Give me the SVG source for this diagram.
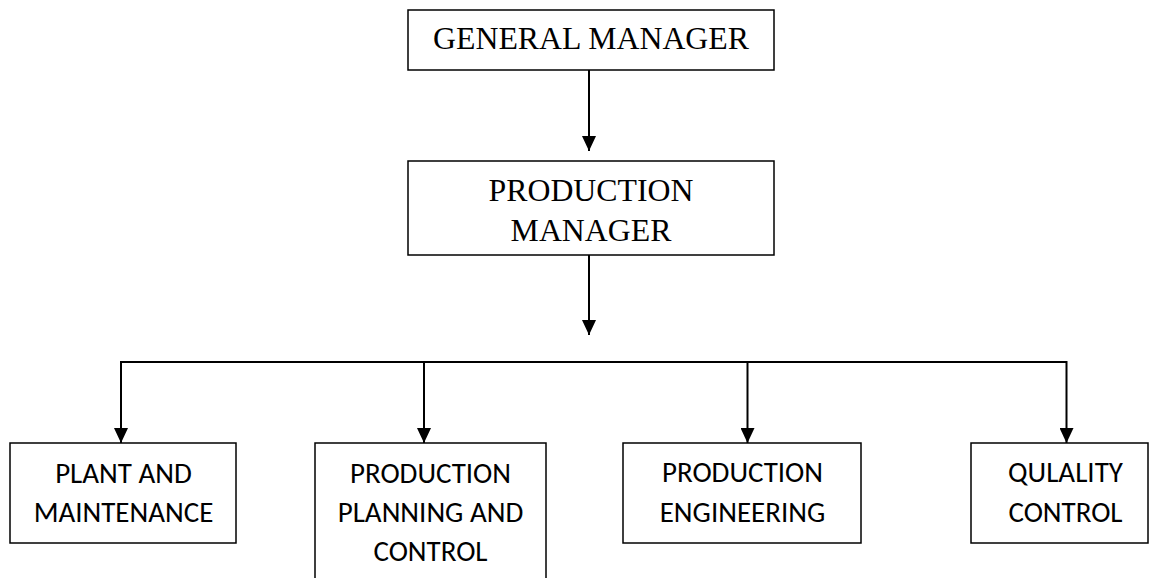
<svg xmlns="http://www.w3.org/2000/svg" width="1152" height="578" viewBox="0 0 1152 578">
<style>
.box{fill:#fff;stroke:#000;stroke-width:1.5}
.serif{font-family:"Liberation Serif","Times New Roman",serif;font-size:31.8px;fill:#000;text-anchor:middle}
.sans{font-family:Carlito,Calibri,"Liberation Sans",Arial,sans-serif;font-size:29px;fill:#000;text-anchor:middle}
.conn{fill:none;stroke:#000;stroke-width:2}
</style>
<defs>
<marker id="arr" viewBox="0 0 15 14" refX="15" refY="7" markerWidth="15" markerHeight="14" markerUnits="userSpaceOnUse" orient="auto">
<path d="M0,0 L15,7 L0,14 z" fill="#000"/>
</marker>
</defs>
<rect width="1152" height="578" fill="#fff"/>
<g id="connectors">
<line class="conn" x1="589" y1="70" x2="589" y2="151" marker-end="url(#arr)"/>
<line class="conn" x1="589" y1="255" x2="589" y2="335" marker-end="url(#arr)"/>
<polyline class="conn" points="120,362 1066.5,362 1066.5,443" marker-end="url(#arr)"/>
<line class="conn" x1="121" y1="361" x2="121" y2="443" marker-end="url(#arr)"/>
<line class="conn" x1="424" y1="362" x2="424" y2="443" marker-end="url(#arr)"/>
<line class="conn" x1="747.5" y1="362" x2="747.5" y2="443" marker-end="url(#arr)"/>
</g>
<g id="general-manager">
<rect class="box" x="408" y="10" width="366" height="60"/>
<text class="serif" x="591" y="49">GENERAL MANAGER</text>
</g>
<g id="production-manager">
<rect class="box" x="408" y="161" width="366" height="94"/>
<text class="serif" x="591" y="201">PRODUCTION</text>
<text class="serif" x="591" y="241">MANAGER</text>
</g>
<g id="plant-maintenance">
<rect class="box" x="10" y="443" width="226" height="100"/>
<text class="sans" x="123.5" y="483">PLANT AND</text>
<text class="sans" x="123.5" y="522">MAINTENANCE</text>
</g>
<g id="production-planning">
<rect class="box" x="315" y="443" width="231" height="145"/>
<text class="sans" x="430.5" y="483">PRODUCTION</text>
<text class="sans" x="430.5" y="522">PLANNING AND</text>
<text class="sans" x="430.5" y="561">CONTROL</text>
</g>
<g id="production-engineering">
<rect class="box" x="623" y="443" width="238" height="100"/>
<text class="sans" x="742.5" y="482">PRODUCTION</text>
<text class="sans" x="742.5" y="522">ENGINEERING</text>
</g>
<g id="quality-control">
<rect class="box" x="971" y="443" width="177" height="100"/>
<text class="sans" x="1065.5" y="482">QULALITY</text>
<text class="sans" x="1065.5" y="522">CONTROL</text>
</g>
</svg>
